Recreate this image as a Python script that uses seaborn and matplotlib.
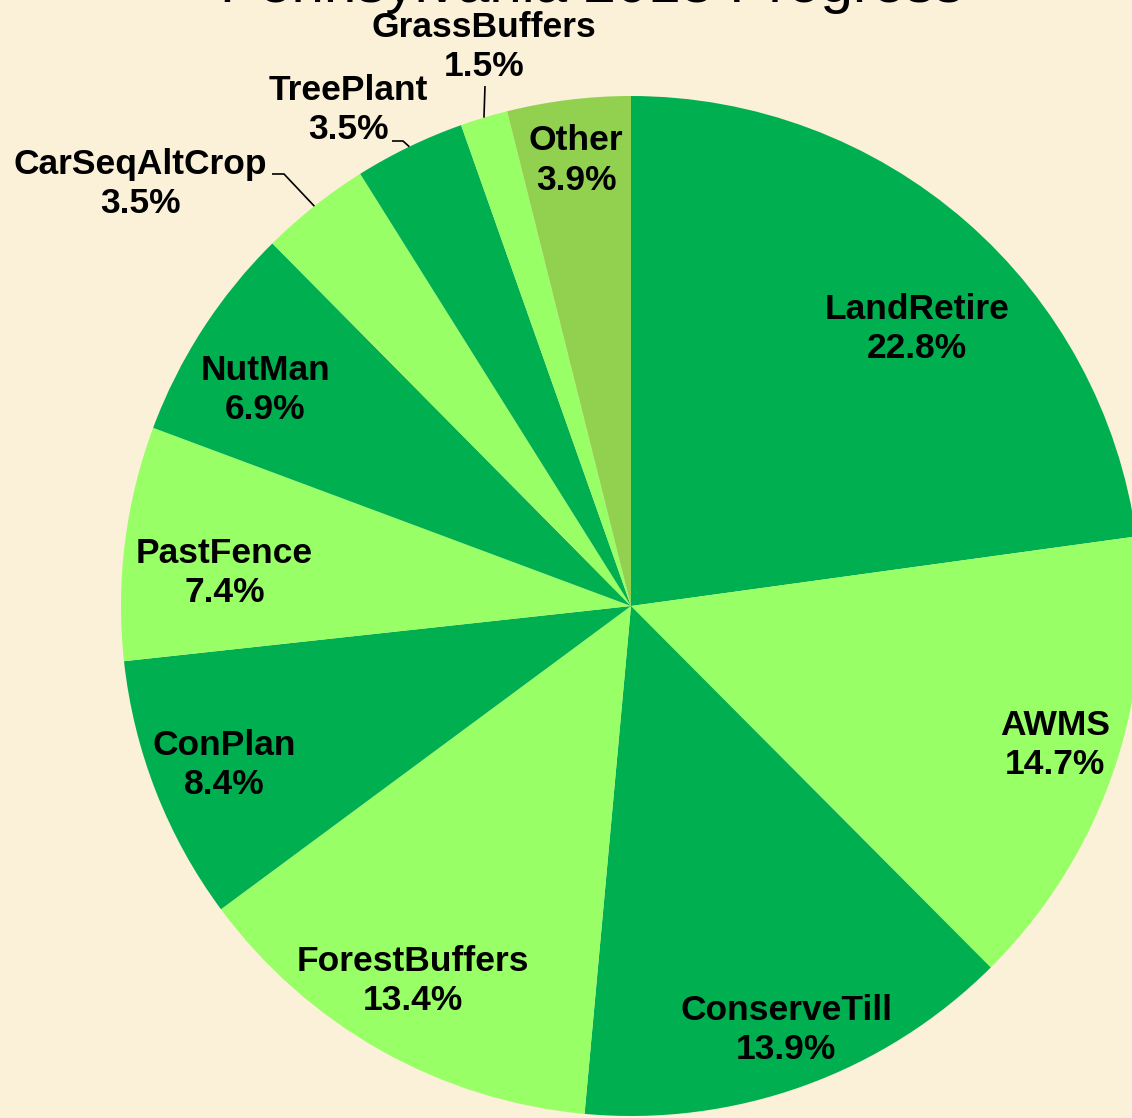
import numpy as np
import matplotlib
matplotlib.use("Agg")
import matplotlib.pyplot as plt
import seaborn as sns

# data
practices = ["LandRetire", "AWMS", "ConserveTill", "ForestBuffers", "ConPlan",
             "PastFence", "NutMan", "CarSeqAltCrop", "TreePlant", "GrassBuffers", "Other"]
shares = [22.8, 14.7, 13.9, 13.4, 8.4, 7.4, 6.9, 3.5, 3.5, 1.5, 3.9]
slice_colors = ["#00B050", "#99FF66", "#00B050", "#99FF66", "#00B050", "#99FF66",
                "#00B050", "#99FF66", "#00B050", "#99FF66", "#92D050"]

# label placement (angle in degrees, radius as fraction of pie radius)
label_angle = [44.1, -18.1, -69.9, -120.2, -158.7, 175.4, 149.4, 139.3, 119.7, 104.7, 97.0]
label_rad = [0.78, 0.875, 0.885, 0.85, 0.857, 0.80, 0.833, 1.27, 1.12, 1.133, 0.88]
outside = ["CarSeqAltCrop", "TreePlant", "GrassBuffers"]

sns.set_style("white")
plt.rcParams["font.family"] = ["Liberation Sans", "DejaVu Sans"]

W, H = 1132, 1118
bg = "#FBF0D8"
fig = plt.figure(figsize=(W / 100, H / 100), dpi=100)
fig.patch.set_facecolor(bg)
ax = fig.add_axes([0, 0, 1, 1])
ax.set_facecolor(bg)

cx, cy, R = 631, H - 606, 510
wedges, _ = ax.pie(shares, colors=slice_colors, startangle=90, counterclock=False,
                   center=(cx, cy), radius=R, wedgeprops=dict(linewidth=0))
ax.set_xlim(0, W)
ax.set_ylim(0, H)
ax.set_aspect("equal")
ax.axis("off")

for i, (name, val) in enumerate(zip(practices, shares)):
    a = np.deg2rad(label_angle[i])
    tx = cx + label_rad[i] * R * np.cos(a)
    ty = cy + label_rad[i] * R * np.sin(a)
    ax.text(tx, ty, f"{name}\n{val:.1f}%", ha="center", va="center",
            fontsize=25.5, fontweight="bold", linespacing=1.24, color="black")

# leader lines for the small outside slices
elbows = {
    "CarSeqAltCrop": [(272, 174), (284, 174)],
    "TreePlant": [(392, 141), (403, 141)],
    "GrassBuffers": [(485, 86), (485, 86)],
}
for w, name in zip(wedges, practices):
    if name not in outside:
        continue
    mid = np.deg2rad((w.theta1 + w.theta2) / 2)
    ex, ey = cx + R * np.cos(mid), cy + R * np.sin(mid)
    pts = [(x, H - y) for x, y in elbows[name]] + [(ex, ey)]
    xs, ys = zip(*pts)
    ax.plot(xs, ys, color="black", lw=1.2, solid_capstyle="butt")

fig.text(592 / W, (H - 2) / H, "Pennsylvania 2013 Progress", ha="center", va="baseline",
         fontsize=42, color="black")

fig.savefig("out.png", dpi=100, facecolor=bg)
